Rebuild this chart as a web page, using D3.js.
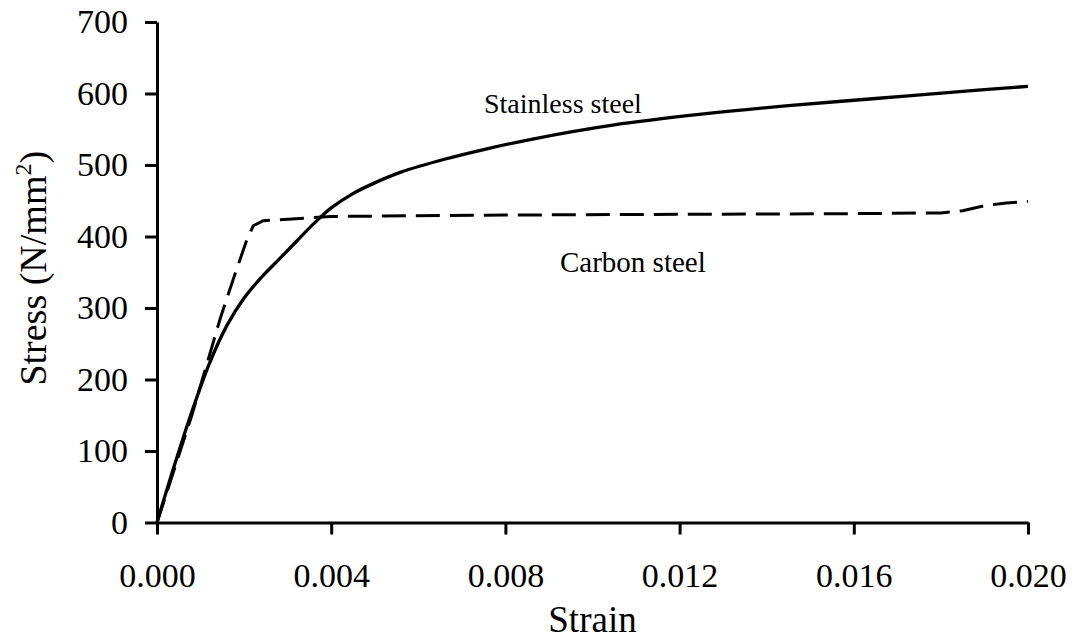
<!DOCTYPE html>
<html>
<head>
<meta charset="utf-8">
<script src="https://cdn.jsdelivr.net/npm/d3@7"></script>
<style>
  html, body { margin: 0; padding: 0; background: #fff; }
  svg { display: block; }
  text { font-family: "Liberation Serif", "Times New Roman", serif; fill: #000; }
</style>
</head>
<body>
<svg id="chart" width="1079" height="641"></svg>
<script>
// Stress–strain curves (strain, stress in N/mm²)
const stainlessStrain = [0, 0.0004, 0.0008, 0.0012, 0.0016, 0.0020, 0.0024, 0.0028, 0.0032, 0.0036, 0.0040, 0.0045, 0.0050, 0.0056, 0.0066, 0.0076, 0.0086, 0.0105, 0.0125, 0.0145, 0.0165, 0.0185, 0.0200];
const stainlessStress = [0, 80, 155, 222, 275, 314, 343, 368, 393, 418, 440, 460, 475, 490, 508, 523, 536, 556, 571, 583, 593, 603, 610];

const carbonStrain = [0, 0.0008, 0.00145, 0.00175, 0.00206, 0.00221, 0.00244, 0.004, 0.008, 0.012, 0.016, 0.018, 0.0185, 0.019, 0.0195, 0.020];
const carbonStress = [0, 150, 285, 340, 395, 415, 422, 428, 430, 431, 432, 433, 436, 443, 447, 449];

const xTicks = [0, 0.004, 0.008, 0.012, 0.016, 0.020];
const yTicks = [0, 100, 200, 300, 400, 500, 600, 700];

const svg = d3.select("#chart");

const x = d3.scaleLinear().domain([0, 0.020]).range([157, 1028]);
const y = d3.scaleLinear().domain([0, 700]).range([522.5, 22]);

// Axes
const xAxis = d3.axisBottom(x)
  .tickValues(xTicks)
  .tickFormat(d3.format(".3f"))
  .tickSize(12)
  .tickSizeOuter(0)
  .tickPadding(28);

const yAxis = d3.axisLeft(y)
  .tickValues(yTicks)
  .tickFormat(d3.format("d"))
  .tickSize(12)
  .tickSizeOuter(0)
  .tickPadding(17);

const gx = svg.append("g")
  .attr("transform", `translate(0,${y(0)})`)
  .call(xAxis);

const gy = svg.append("g")
  .attr("transform", `translate(${x(0)},0)`)
  .call(yAxis);

[gx, gy].forEach(g => {
  g.select(".domain").attr("stroke", "#000").attr("stroke-width", 3);
  g.selectAll(".tick line").attr("stroke", "#000").attr("stroke-width", 3);
  g.selectAll(".tick text")
    .attr("font-family", "'Liberation Serif', 'Times New Roman', serif")
    .attr("font-size", 34)
    .attr("fill", "#000");
});

// Curves
const smooth = d3.line()
  .x(d => x(d[0]))
  .y(d => y(d[1]))
  .curve(d3.curveCatmullRom.alpha(0.5));

const straight = d3.line()
  .x(d => x(d[0]))
  .y(d => y(d[1]));

const stainless = stainlessStrain.map((s, i) => [s, stainlessStress[i]]);
const carbon = carbonStrain.map((s, i) => [s, carbonStress[i]]);

svg.append("path")
  .datum(carbon)
  .attr("fill", "none")
  .attr("stroke", "#000")
  .attr("stroke-width", 3)
  .attr("stroke-dasharray", "24,10")
  .attr("d", straight);

svg.append("path")
  .datum(stainless)
  .attr("fill", "none")
  .attr("stroke", "#000")
  .attr("stroke-width", 3.3)
  .attr("stroke-linejoin", "round")
  .attr("d", smooth);

// Curve labels
svg.append("text")
  .attr("x", 484)
  .attr("y", 113)
  .attr("font-size", 28)
  .text("Stainless steel");

svg.append("text")
  .attr("x", 560)
  .attr("y", 272)
  .attr("font-size", 29)
  .text("Carbon steel");

// Axis titles
svg.append("text")
  .attr("x", (x(0) + x(0.020)) / 2)
  .attr("y", 632)
  .attr("text-anchor", "middle")
  .attr("font-size", 37)
  .text("Strain");

const yTitle = svg.append("text")
  .attr("transform", `translate(46,${(y(0) + y(700)) / 2 - 4}) rotate(-90)`)
  .attr("text-anchor", "middle")
  .attr("font-size", 38);
yTitle.append("tspan").text("Stress (N/mm");
yTitle.append("tspan").attr("font-size", 24).attr("dy", -15).text("2");
yTitle.append("tspan").attr("dy", 15).text(")");
</script>
</body>
</html>
